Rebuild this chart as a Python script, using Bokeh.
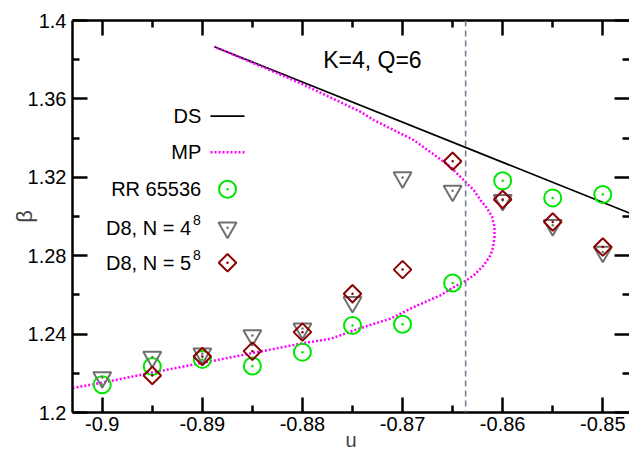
from bokeh.plotting import figure
from bokeh.models import FixedTicker, LinearAxis, Span, Range1d, CustomLabelingPolicy
from bokeh.core.properties import value
from bokeh.embed import file_html
from bokeh.resources import INLINE

# ---------------- data ----------------
x_major = [-0.9, -0.89, -0.88, -0.87, -0.86, -0.85]
x_major_labels = ["-0.9", "-0.89", "-0.88", "-0.87", "-0.86", "-0.85"]
x_minor = [-0.895, -0.885, -0.875, -0.865, -0.855]
y_major = [1.2, 1.24, 1.28, 1.32, 1.36, 1.4]
y_major_labels = ["1.2", "1.24", "1.28", "1.32", "1.36", "1.4"]
y_minor = [1.22, 1.26, 1.30, 1.34, 1.38]

u_vals = [-0.9, -0.895, -0.89, -0.885, -0.88, -0.875, -0.87, -0.865, -0.86, -0.855, -0.85]
rr_beta = [1.2142, 1.2235, 1.2271, 1.2237, 1.2308, 1.2444, 1.2450, 1.2661, 1.3182, 1.3095, 1.3112]
d8_4_beta = [1.2179, 1.2283, 1.2300, 1.2393, 1.2428, 1.2563, 1.3199, 1.3131, 1.3083, 1.2955, 1.2819]
d8_5_u = [-0.895, -0.89, -0.885, -0.88, -0.875, -0.87, -0.865, -0.86, -0.855, -0.85]
d8_5_beta = [1.2189, 1.2286, 1.2313, 1.2410, 1.2606, 1.2729, 1.3282, 1.3087, 1.2972, 1.2844]

ds_u = [-0.8888, -0.8473]
ds_beta = [1.3866, 1.3017]

mp_u = [-0.90297, -0.9, -0.895, -0.89, -0.885, -0.88, -0.8772, -0.87387, -0.8712, -0.86888,
        -0.86621, -0.86488, -0.86388, -0.86288, -0.86189, -0.86122, -0.86095, -0.86082,
        -0.86082, -0.86105, -0.86155, -0.86221, -0.86288, -0.86388, -0.86521, -0.86654,
        -0.86888, -0.87088, -0.87287, -0.87415, -0.88015, -0.8845, -0.8888]
mp_beta = [1.2125, 1.2152, 1.2204, 1.2253, 1.2303, 1.2353, 1.2376, 1.2436, 1.2479, 1.2538,
           1.2598, 1.2640, 1.2666, 1.2700, 1.2751, 1.2802, 1.2844, 1.2896,
           1.2947, 1.2998, 1.3041, 1.3083, 1.3134, 1.3185, 1.3253, 1.3304,
           1.3390, 1.3441, 1.3492, 1.3533, 1.3679, 1.3774, 1.3866]

u_critical = -0.8637

legend_labels = ["DS", "MP", "RR 65536", "D8, N = 4", "D8, N = 5"]
legend_sup = ["", "", "", "8", "8"]
annotation = "K=4, Q=6"

# ---------------- styling ----------------
FONT = "Liberation Sans"
GREEN = "#00e600"
GRAY = "#707070"
DRED = "#8b0000"
MAGENTA = "#ff00ff"

X0, X1 = -0.90297, -0.84733
Y0, Y1 = 1.2, 1.4
BASE_FIX = 7.0  # renderer baseline correction in px

# pixel -> data helpers for legend/annotation layout (frame: x 72..629, y 20.5..412)
def px2u(px):
    return -0.9 + (px - 101.7) / 10012.0

def py2b(py):
    return 1.2 + (412.0 - py) / 1957.5

p = figure(width=629, height=456, output_backend="svg", toolbar_location=None,
           x_range=Range1d(X0, X1), y_range=Range1d(Y0, Y1),
           min_border_left=72, min_border_right=0, min_border_top=20, min_border_bottom=44)
p.outline_line_color = None
p.xgrid.visible = False
p.ygrid.visible = False
p.background_fill_color = "white"
p.border_fill_color = "white"

def style_axis(ax, ticks, minor, labels, show_labels):
    ax.ticker = FixedTicker(ticks=ticks, minor_ticks=minor)
    ax.major_tick_in = 15
    ax.major_tick_out = 0
    ax.minor_tick_in = 7
    ax.minor_tick_out = 0
    ax.axis_line_width = 2.5
    ax.major_tick_line_width = 2.5
    ax.minor_tick_line_width = 2.5
    ax.axis_line_color = "black"
    ax.major_tick_line_color = "black"
    ax.minor_tick_line_color = "black"
    if show_labels:
        ov = {}
        for t, l in zip(ticks, labels):
            ov[t] = l
        ax.major_label_overrides = ov
        ax.major_label_text_font = FONT
        ax.major_label_text_font_size = "20px"
        ax.major_label_text_color = "black"
    else:
        ax.major_label_text_font_size = "0px"
        ax.major_label_standoff = 0
        ax.major_label_policy = CustomLabelingPolicy(
            code="const ii = [...indices]; for (const i of ii) indices.unset(i);")

xb = p.xaxis[0]
style_axis(xb, x_major, x_minor, x_major_labels, True)
xb.major_label_standoff = 4
xb.axis_label = "u"
xb.axis_label_text_font = FONT
xb.axis_label_text_font_style = "normal"
xb.axis_label_text_font_size = "20px"
xb.axis_label_standoff = -5
xb.axis_label_text_baseline = "middle"

yl = p.yaxis[0]
style_axis(yl, y_major, y_minor, y_major_labels, True)
yl.major_label_standoff = 6
yl.axis_label = "β"
yl.axis_label_text_font = FONT
yl.axis_label_text_font_style = "normal"
yl.axis_label_text_font_size = "22px"
yl.axis_label_standoff = -12

xt = LinearAxis()
style_axis(xt, x_major, x_minor, x_major_labels, False)
p.add_layout(xt, "above")

yr = LinearAxis()
style_axis(yr, y_major, y_minor, y_major_labels, False)
yr.axis_line_color = None
p.add_layout(yr, "right")

# vertical dashed line at critical u
p.add_layout(Span(location=u_critical, dimension="height", line_color="#6f8196",
                  line_width=1.6, line_dash="6 4"))

# DS and MP curves
p.line(ds_u, ds_beta, line_color="black", line_width=1.8)
p.line(mp_u, mp_beta, line_color=MAGENTA, line_width=2.5, line_dash="2 2")

# data markers
p.scatter(u_vals, rr_beta, marker="circle", size=17, fill_color=None,
          line_color=GREEN, line_width=2)
p.scatter(u_vals, rr_beta, marker="circle", size=2.5, fill_color=GREEN, line_color=None)
p.scatter(u_vals, d8_4_beta, marker="inverted_triangle", size=18, fill_color=None,
          line_color=GRAY, line_width=2)
p.scatter(u_vals, d8_4_beta, marker="circle", size=2.5, fill_color=GRAY, line_color=None)
p.scatter(d8_5_u, d8_5_beta, marker="square", angle=0.785398, size=12.4, fill_color=None,
          line_color=DRED, line_width=2)
p.scatter(d8_5_u, d8_5_beta, marker="circle", size=2.5, fill_color=DRED, line_color=None)

# ---------------- custom legend (text left of symbol) ----------------
row_base = [123.3, 159.3, 196.0, 235.0, 270.0]
row_mid = [116.0, 152.0, 189.0, 227.5, 262.5]
right_edge = [200.7, 200.7, 200.7, 190.5, 190.5]
p.text(x=[px2u(r) for r in right_edge], y=[py2b(b - BASE_FIX) for b in row_base],
       text=legend_labels, text_align="right", text_baseline="alphabetic",
       text_font=value(FONT), text_font_size="20px", text_color="black")
sup_idx = [i for i, s in enumerate(legend_sup) if s]
p.text(x=[px2u(192.5) for i in sup_idx], y=[py2b(row_base[i] - 10.7 - 5.0) for i in sup_idx],
       text=[legend_sup[i] for i in sup_idx], text_align="left", text_baseline="alphabetic",
       text_font=value(FONT), text_font_size="14px", text_color="black")

p.line([px2u(210), px2u(244)], [py2b(row_mid[0])] * 2, line_color="black", line_width=1.8)
p.line([px2u(210), px2u(245)], [py2b(row_mid[1])] * 2, line_color=MAGENTA, line_width=2.5,
       line_dash="2 2")
sx = px2u(227)
p.scatter([sx], [py2b(row_mid[2])], marker="circle", size=17, fill_color=None,
          line_color=GREEN, line_width=2)
p.scatter([sx], [py2b(row_mid[2])], marker="circle", size=2.5, fill_color=GREEN, line_color=None)
p.scatter([sx], [py2b(row_mid[3])], marker="inverted_triangle", size=18, fill_color=None,
          line_color=GRAY, line_width=2)
p.scatter([sx], [py2b(row_mid[3])], marker="circle", size=2.5, fill_color=GRAY, line_color=None)
p.scatter([sx], [py2b(row_mid[4])], marker="square", angle=0.785398, size=12.4, fill_color=None,
          line_color=DRED, line_width=2)
p.scatter([sx], [py2b(row_mid[4])], marker="circle", size=2.5, fill_color=DRED, line_color=None)

# annotation
p.text(x=[px2u(322.7)], y=[py2b(67.3 - BASE_FIX)], text=[annotation], text_align="left",
       text_baseline="alphabetic", text_font=value(FONT), text_font_size="23px",
       text_color="black")

open("out.html", "w").write(file_html(p, INLINE))
